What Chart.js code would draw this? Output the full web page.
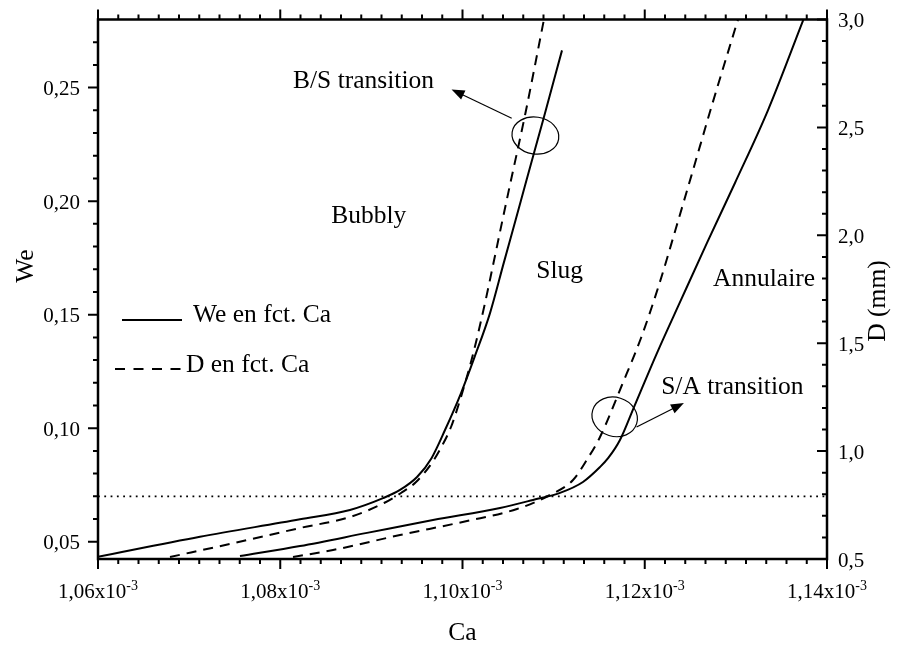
<!DOCTYPE html>
<html>
<head>
<meta charset="utf-8">
<script src="https://cdn.jsdelivr.net/npm/chart.js@4.4.0/dist/chart.umd.min.js"></script>
<style>
  html, body { margin: 0; padding: 0; background: #fff; }
</style>
</head>
<body>
<canvas id="c" width="900" height="645"></canvas>
<script>
// Ca is given in units of 1e-3 throughout.

// Bubbly / slug transition, We (left axis)
const caBubblySlugWe = [1.06000, 1.07119, 1.08217, 1.08765, 1.09128, 1.09314, 1.09501, 1.09660, 1.09808, 1.09984, 1.10132, 1.10302, 1.10452, 1.10582, 1.10702, 1.10894, 1.11092];
const weBubblySlug   = [0.0434, 0.0522, 0.0599, 0.0640, 0.0692, 0.0728, 0.0785, 0.0868, 0.0992, 0.1155, 0.1313, 0.1507, 0.1727, 0.1916, 0.2092, 0.2371, 0.2664];

// Bubbly / slug transition, D in mm (right axis)
const caBubblySlugD = [1.06790, 1.07481, 1.08217, 1.08765, 1.09139, 1.09325, 1.09490, 1.09671, 1.09786, 1.09874, 1.09956, 1.10038, 1.10119, 1.10247, 1.10340, 1.10439, 1.10516, 1.10691, 1.10889];
const dBubblySlug   = [0.5093, 0.5728, 0.6437, 0.6946, 0.7595, 0.8058, 0.8568, 0.9495, 1.0329, 1.1117, 1.2136, 1.3295, 1.4546, 1.6863, 1.8716, 2.0709, 2.2238, 2.5667, 2.9898];

// Slug / annular transition, We (left axis)
const caSlugAnnularWe = [1.07558, 1.08217, 1.08952, 1.09676, 1.10412, 1.10774, 1.11070, 1.11322, 1.11509, 1.11600, 1.11728, 1.11882, 1.12134, 1.12398, 1.12683, 1.12990, 1.13353, 1.13740];
const weSlugAnnular   = [0.0437, 0.0481, 0.0539, 0.0596, 0.0649, 0.0684, 0.0715, 0.0763, 0.0829, 0.0869, 0.0948, 0.1093, 0.1331, 0.1565, 0.1816, 0.2080, 0.2401, 0.2798];

// Slug / annular transition, D in mm (right axis)
const caSlugAnnularD = [1.08140, 1.08579, 1.09314, 1.10049, 1.10598, 1.10960, 1.11213, 1.11377, 1.11509, 1.11750, 1.11959, 1.12156, 1.12343, 1.12530, 1.12738, 1.13023];
const dSlugAnnular   = [0.5093, 0.5417, 0.6112, 0.6761, 0.7317, 0.7966, 0.8661, 0.9680, 1.0653, 1.3063, 1.5241, 1.7697, 2.0338, 2.3026, 2.6038, 3.0000];

// Horizontal reference level of We
const weThreshold = 0.07;

// Axis ticks and labels
const caTicks = [1.06, 1.08, 1.10, 1.12, 1.14];
const caTickLabels = ['1,06x10', '1,08x10', '1,10x10', '1,12x10', '1,14x10'];
const caTickExponent = '-3';
const weTicks = [0.05, 0.10, 0.15, 0.20, 0.25];
const weTickLabels = ['0,05', '0,10', '0,15', '0,20', '0,25'];
const dTicks = [0.5, 1.0, 1.5, 2.0, 2.5, 3.0];
const dTickLabels = ['0,5', '1,0', '1,5', '2,0', '2,5', '3,0'];

const SERIF = '"Liberation Serif", "Times New Roman", serif';

function pairs(xs, ys) { return xs.map((x, i) => ({ x: x, y: ys[i] })); }

const solidStyle = { borderColor: '#000', borderWidth: 2, pointRadius: 0, fill: false, cubicInterpolationMode: 'monotone' };
const dashedStyle = Object.assign({}, solidStyle, { borderDash: [10, 7] });

// Axis frame, minor ticks, tick labels, region labels and legend
const decorations = {
  id: 'decorations',
  afterDraw(chart) {
    const { ctx, chartArea: a, scales } = chart;
    const sx = scales.x, sy = scales.y, sd = scales.y2;
    const X = v => sx.getPixelForValue(v);
    const Y = v => sy.getPixelForValue(v);
    const YD = v => sd.getPixelForValue(v);
    ctx.save();
    ctx.strokeStyle = '#000';
    ctx.fillStyle = '#000';

    // frame
    ctx.lineWidth = 2.5;
    ctx.strokeRect(a.left, a.top, a.right - a.left, a.bottom - a.top);

    // tick marks
    ctx.lineWidth = 2;
    ctx.beginPath();
    const caStep = caTicks[1] - caTicks[0];
    caTicks.forEach((v, i) => {
      const p = X(v);
      ctx.moveTo(p, a.bottom); ctx.lineTo(p, a.bottom + 10);
      ctx.moveTo(p, a.top); ctx.lineTo(p, a.top - 10);
      if (i < caTicks.length - 1) {
        for (let k = 1; k < 9; k++) {
          const q = X(v + k * caStep / 9);
          ctx.moveTo(q, a.bottom); ctx.lineTo(q, a.bottom + 5);
          ctx.moveTo(q, a.top); ctx.lineTo(q, a.top - 5);
        }
      }
    });
    for (let v = 0.05; v <= sy.max + 1e-9; v += 0.01) {
      const major = Math.abs(v / 0.05 - Math.round(v / 0.05)) < 1e-6;
      const p = Y(v);
      if (p < a.top + 2) continue;
      ctx.moveTo(a.left, p); ctx.lineTo(a.left - (major ? 10 : 5), p);
    }
    for (let v = 0.5; v <= 3.0 + 1e-9; v += 0.1) {
      const major = Math.abs(v / 0.5 - Math.round(v / 0.5)) < 1e-6;
      const p = YD(v);
      ctx.moveTo(a.right, p); ctx.lineTo(a.right - (major ? 10 : 5), p);
    }
    ctx.stroke();

    // tick labels
    ctx.textBaseline = 'alphabetic';
    const mainFont = '21px ' + SERIF, supFont = '14px ' + SERIF;
    caTicks.forEach((v, i) => {
      ctx.font = mainFont;
      const mw = ctx.measureText(caTickLabels[i]).width;
      ctx.font = supFont;
      const sw = ctx.measureText(caTickExponent).width;
      const x0 = X(v) - (mw + sw) / 2;
      ctx.font = mainFont; ctx.textAlign = 'left';
      ctx.fillText(caTickLabels[i], x0, a.bottom + 39);
      ctx.font = supFont;
      ctx.fillText(caTickExponent, x0 + mw, a.bottom + 31);
    });
    ctx.font = mainFont;
    ctx.textAlign = 'right';
    weTicks.forEach((v, i) => ctx.fillText(weTickLabels[i], a.left - 18, Y(v) + 7.5));
    ctx.textAlign = 'left';
    dTicks.forEach((v, i) => ctx.fillText(dTickLabels[i], a.right + 11, YD(v) + 7.5));

    // axis titles
    const bigFont = '25.5px ' + SERIF;
    ctx.font = bigFont;
    ctx.textAlign = 'center';
    ctx.fillText('Ca', (a.left + a.right) / 2, a.bottom + 81);
    ctx.save();
    ctx.translate(33, 266);
    ctx.rotate(-Math.PI / 2);
    ctx.fillText('We', 0, 0);
    ctx.restore();
    ctx.save();
    ctx.translate(885, 301);
    ctx.rotate(-Math.PI / 2);
    ctx.fillText('D (mm)', 0, 0);
    ctx.restore();

    // region and transition labels (positioned in Ca / We units)
    ctx.textAlign = 'left';
    [['B/S transition', 1.0814, 0.2499], ['Bubbly', 1.0856, 0.1903], ['Slug', 1.1081, 0.1663],
     ['Annulaire', 1.1275, 0.1625], ['S/A transition', 1.1218, 0.1152]]
      .forEach(t => ctx.fillText(t[0], X(t[1]), Y(t[2])));

    // ellipses marking the transition pairs
    ctx.lineWidth = 1.2;
    ctx.beginPath();
    ctx.ellipse(X(1.1080), Y(0.2289), 23.5, 18.5, 0.15, 0, Math.PI * 2);
    ctx.stroke();
    ctx.beginPath();
    ctx.ellipse(X(1.1167), Y(0.1050), 23, 19.5, 0.3, 0, Math.PI * 2);
    ctx.stroke();

    // arrows
    function arrow(c0, w0, c1, w1) {
      const x0 = X(c0), y0 = Y(w0), x1 = X(c1), y1 = Y(w1);
      const ang = Math.atan2(y1 - y0, x1 - x0);
      const L = 13, H = 5;
      ctx.beginPath();
      ctx.moveTo(x0, y0);
      ctx.lineTo(x1 - L * 0.8 * Math.cos(ang), y1 - L * 0.8 * Math.sin(ang));
      ctx.stroke();
      ctx.beginPath();
      ctx.moveTo(x1, y1);
      ctx.lineTo(x1 - L * Math.cos(ang) + H * Math.sin(ang), y1 - L * Math.sin(ang) - H * Math.cos(ang));
      ctx.lineTo(x1 - L * Math.cos(ang) - H * Math.sin(ang), y1 - L * Math.sin(ang) + H * Math.cos(ang));
      ctx.closePath();
      ctx.fill();
    }
    arrow(1.1054, 0.2365, 1.0988, 0.2492);
    arrow(1.1191, 0.1005, 1.1243, 0.1111);

    // legend
    ctx.lineWidth = 2;
    ctx.beginPath();
    ctx.moveTo(a.left + 24, 320); ctx.lineTo(a.left + 84, 320);
    ctx.stroke();
    ctx.setLineDash([10, 8.5]);
    ctx.beginPath();
    ctx.moveTo(a.left + 17, 369); ctx.lineTo(a.left + 85, 369);
    ctx.stroke();
    ctx.setLineDash([]);
    ctx.font = bigFont;
    ctx.fillText('We en fct. Ca', a.left + 95, 321.5);
    ctx.fillText('D en fct. Ca', a.left + 88, 371.5);

    ctx.restore();
  }
};

const hiddenAxis = { grid: { display: false, drawTicks: false }, border: { display: false }, ticks: { display: false } };

new Chart(document.getElementById('c'), {
  type: 'line',
  data: {
    datasets: [
      Object.assign({ label: 'We en fct. Ca', data: pairs(caBubblySlugWe, weBubblySlug), yAxisID: 'y' }, solidStyle),
      Object.assign({ label: 'D en fct. Ca', data: pairs(caBubblySlugD, dBubblySlug), yAxisID: 'y2' }, dashedStyle),
      Object.assign({ label: 'We en fct. Ca', data: pairs(caSlugAnnularWe, weSlugAnnular), yAxisID: 'y' }, solidStyle),
      Object.assign({ label: 'D en fct. Ca', data: pairs(caSlugAnnularD, dSlugAnnular), yAxisID: 'y2' }, dashedStyle),
      { label: 'We = 0,07', data: [{ x: caTicks[0], y: weThreshold }, { x: caTicks[caTicks.length - 1], y: weThreshold }],
        yAxisID: 'y', borderColor: '#000', borderWidth: 1.6, borderDash: [1.8, 4.5], pointRadius: 0, fill: false }
    ]
  },
  options: {
    responsive: false,
    animation: false,
    devicePixelRatio: 1,
    layout: { padding: { top: 19.5, left: 0, right: 0, bottom: 0 } },
    plugins: { legend: { display: false }, tooltip: { enabled: false } },
    scales: {
      x: Object.assign({ type: 'linear', position: 'bottom', min: 1.06, max: 1.14,
        afterFit: s => { s.height = 86; } }, hiddenAxis),
      y: Object.assign({ type: 'linear', position: 'left', min: 0.0424, max: 0.28,
        afterFit: s => { s.width = 98; } }, hiddenAxis),
      y2: Object.assign({ type: 'linear', position: 'right', min: 0.5, max: 3.0,
        afterFit: s => { s.width = 73; } }, hiddenAxis)
    }
  },
  plugins: [decorations]
});
</script>
</body>
</html>
